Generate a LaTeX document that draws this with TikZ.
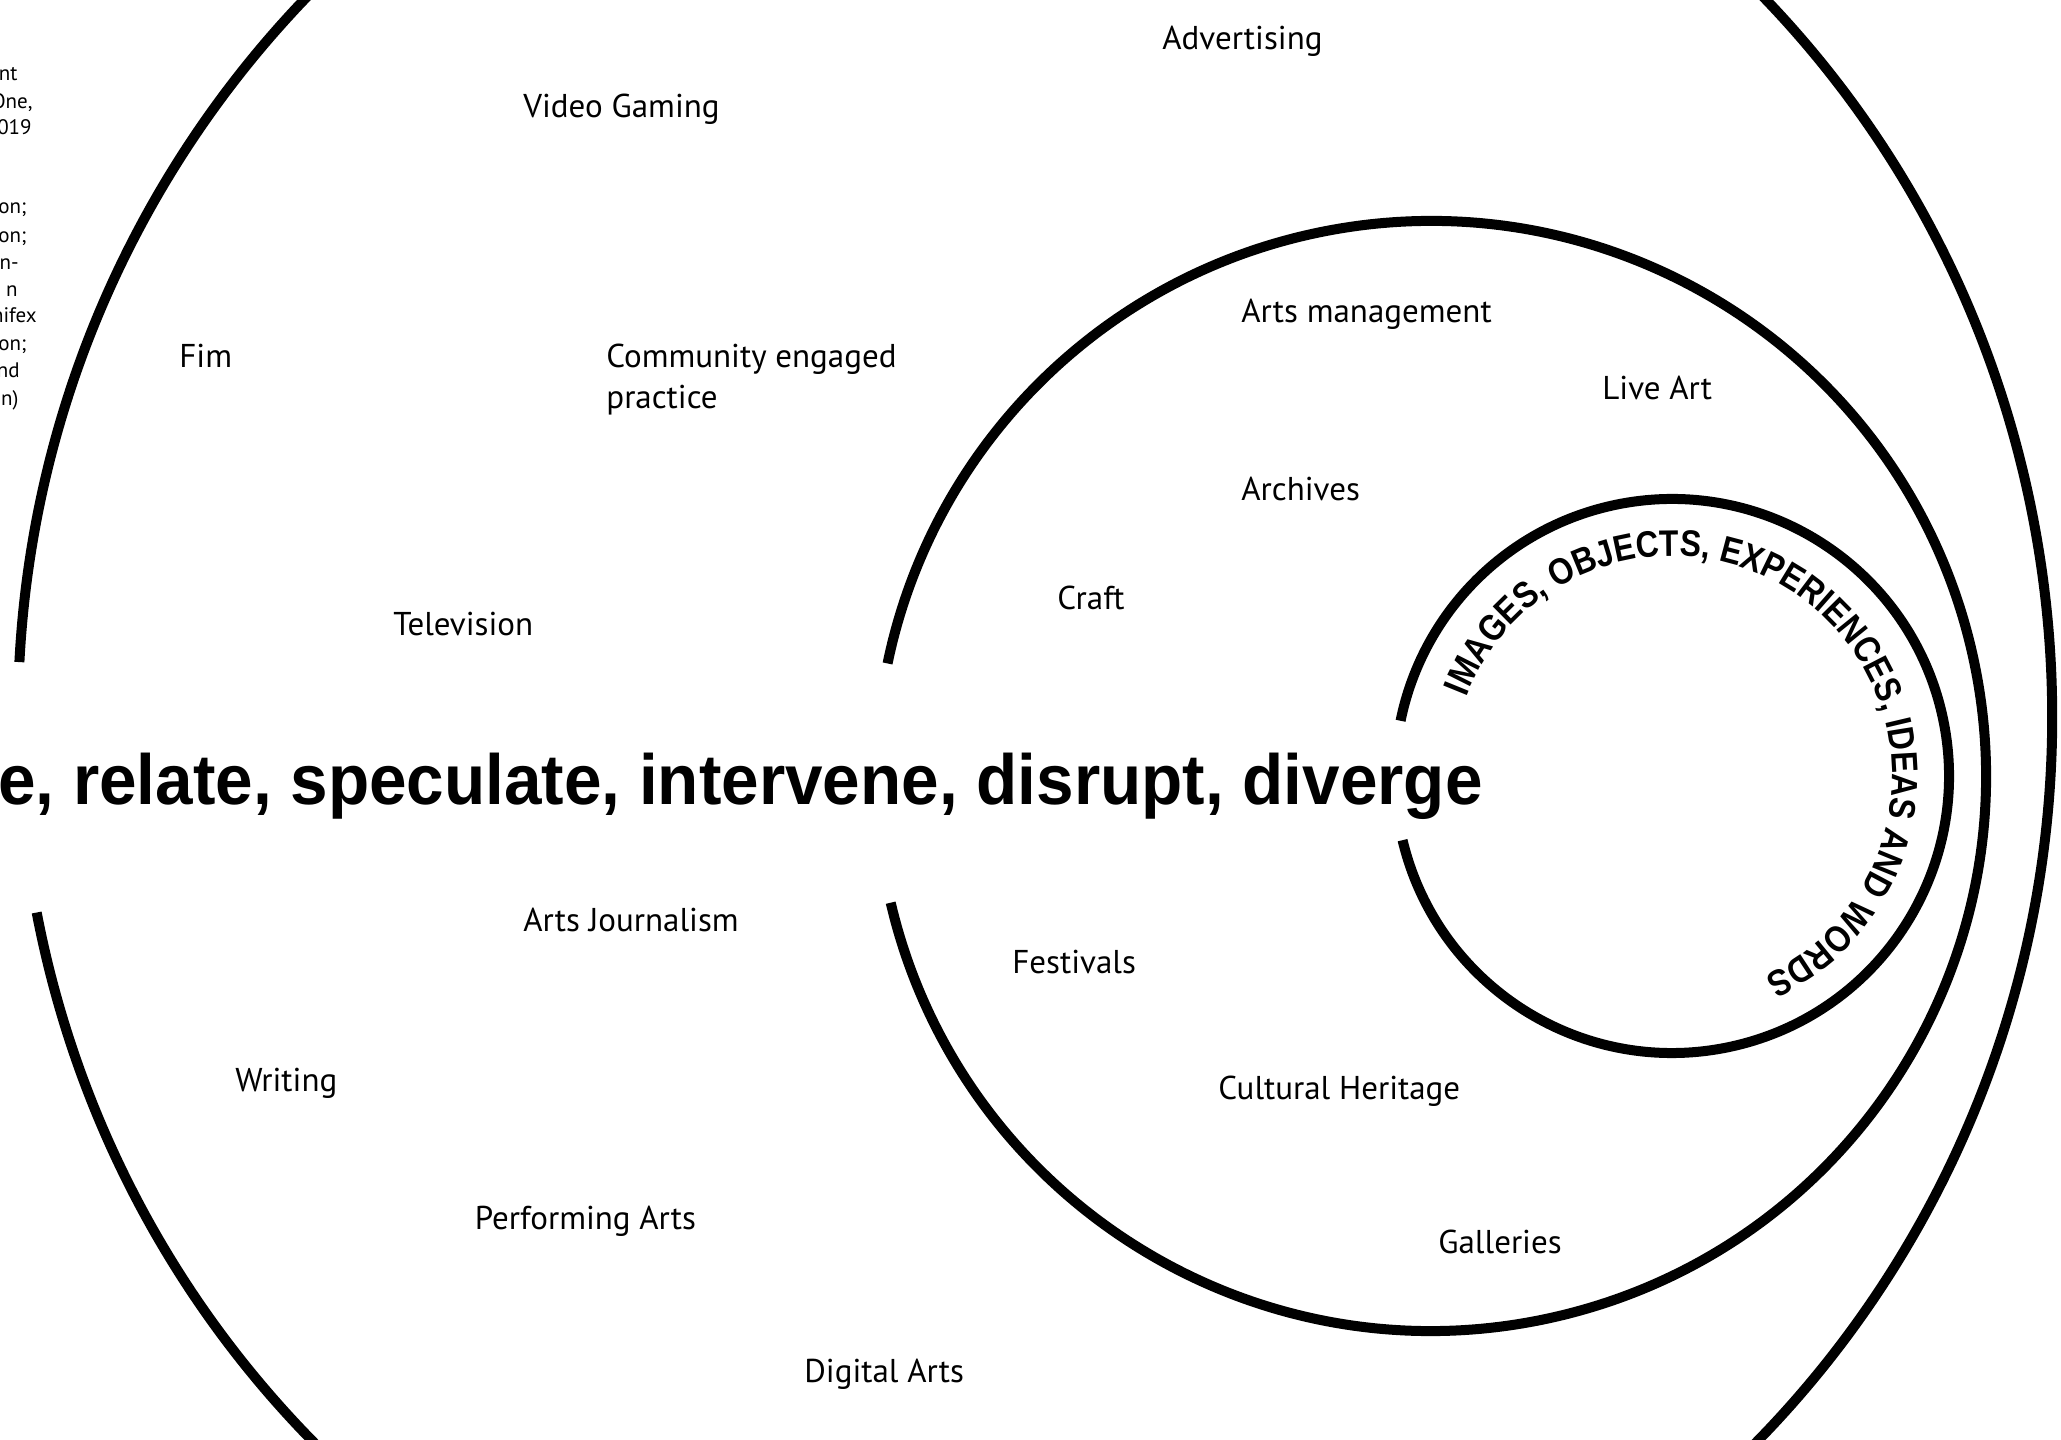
\documentclass[tikz,border=0pt]{standalone}
\usepackage{fontspec}
\setmainfont{PT Sans}
\newfontfamily\heavyfont[FakeStretch=0.95]{Liberation Sans}
\newfontfamily\narrowfont[FakeStretch=0.86]{Liberation Sans}
\usetikzlibrary{decorations.text}

\newcommand*{\lblsize}{\fontsize{16.5}{20.5}\selectfont}
\newcommand*{\fragsize}{\fontsize{10.5}{13.5}\selectfont}
\newcommand*{\capsfont}{\narrowfont\bfseries\fontsize{18.5}{20}\selectfont}

\begin{document}
\begin{tikzpicture}[x=0.5pt, y=0.5pt,
    ring/.style={line width=5pt},
    lbl/.style={anchor=base west, inner sep=0pt, font=\lblsize},
    frag/.style={anchor=base east, inner sep=0pt, font=\fragsize},
    verbs/.style={anchor=base east, inner sep=0pt,
      font=\heavyfont\bfseries\fontsize{35.5}{40}\selectfont}]

  \useasboundingbox (0,0) rectangle (2061,1440);
  \clip (0,0) rectangle (2061,1440);

  % Rings (open on the left where the verbs pass through)
  \draw[ring] (1035,724) ++(191:1017 and 1030)
    arc[start angle=191, end angle=537, x radius=1017, y radius=1030];
  \draw[ring] (1431,664) ++(193.2:555) arc[start angle=193.2, end angle=528.3, radius=555];
  \draw[ring] (1672,664) ++(193.4:277) arc[start angle=193.4, end angle=528.5, radius=277];

  % Curved text inside the small ring
  \path[decorate, decoration={text along path,
      text={|\capsfont|IMAGES, OBJECTS, EXPERIENCES, IDEAS AND WORDS}}]
    (1672,664) ++(159:220) arc[start angle=159, end angle=-90, radius=220];

  % Define nodes
  \node[verbs] (verbs) at (1483,635) {e, relate, speculate, intervene, disrupt, diverge};

  \node[lbl] (advert)  at (1162,1390.5) {Advertising};
  \node[lbl] (gaming)  at (523,1322)    {Video Gaming};
  \node[lbl] (film)    at (179,1072.5)  {Fim};
  \node[lbl, anchor=west, align=left] (commun) at (606,1060.5) {Community engaged\\practice};
  \node[lbl] (tv)      at (393,804.5)   {Television};
  \node[lbl] (artsman) at (1241,1117)   {Arts management};
  \node[lbl] (liveart) at (1602,1040.5) {Live Art};
  \node[lbl] (archive) at (1241,939.5)  {Archives};
  \node[lbl] (craft)   at (1057,830.5)  {Craft};
  \node[lbl] (journ)   at (523,508.5)   {Arts Journalism};
  \node[lbl] (fest)    at (1012,466.5)  {Festivals};
  \node[lbl] (writing) at (235,348.5)   {Writing};
  \node[lbl] (heritage) at (1218,340.5) {Cultural Heritage};
  \node[lbl] (perform) at (474.5,210)   {Performing Arts};
  \node[lbl] (gallery) at (1438,186.5)  {Galleries};
  \node[lbl] (digital) at (804,57.5)    {Digital Arts};

  % Caption cut off at the left edge
  \node[frag] (fr1)  at (18,1359)   {nt};
  \node[frag] (fr2)  at (33,1331.5) {One,};
  \node[frag] (fr3)  at (32,1305)   {019};
  \node[frag] (fr4)  at (27,1226.3) {on;};
  \node[frag] (fr5)  at (27,1197.4) {on;};
  \node[frag] (fr6)  at (19,1170)   {n-};
  \node[frag] (fr7)  at (18,1143.5) {n};
  \node[frag] (fr8)  at (37,1117.2) {nifex};
  \node[frag] (fr9)  at (27,1089.6) {on;};
  \node[frag] (fr10) at (20,1062)   {nd};
  \node[frag] (fr11) at (19,1034.4) {n)};

\end{tikzpicture}
\end{document}
